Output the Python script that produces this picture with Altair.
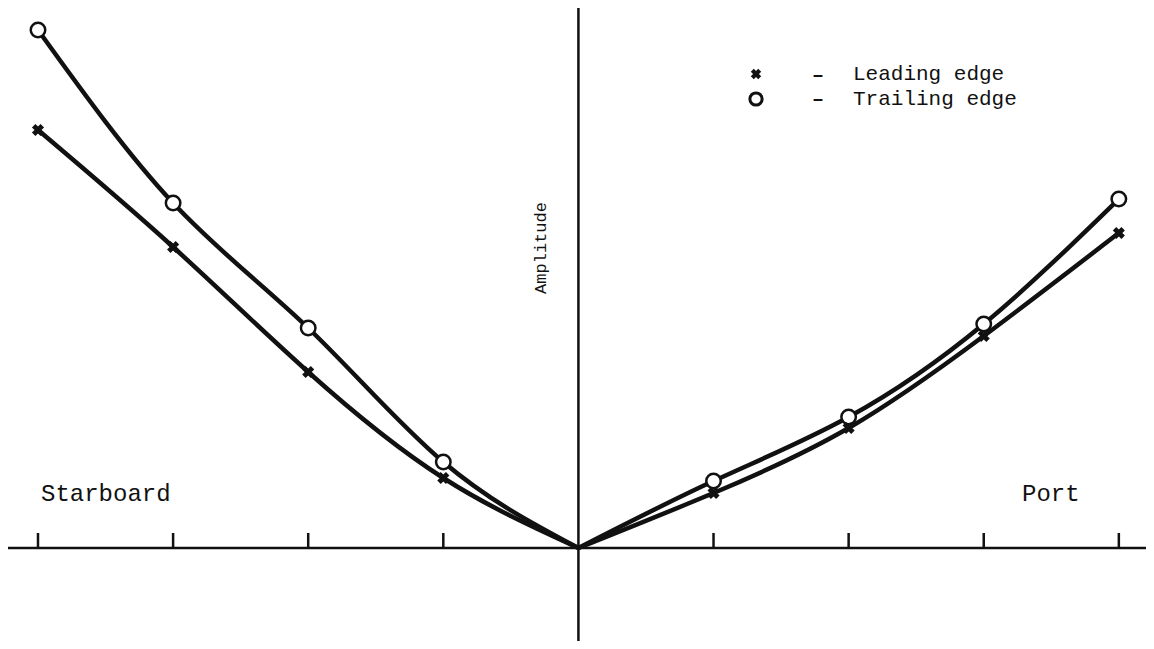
import altair as alt
import pandas as pd

# Data
positions = [-4, -3, -2, -1, 0, 1, 2, 3, 4]
leading_edge = [4.18, 3.01, 1.76, 0.70, 0.0, 0.55, 1.20, 2.12, 3.15]
trailing_edge = [5.18, 3.45, 2.20, 0.86, 0.0, 0.67, 1.31, 2.24, 3.49]
tick_positions = [-4, -3, -2, -1, 1, 2, 3, 4]

rows = []
for name, vals in [("Leading edge", leading_edge), ("Trailing edge", trailing_edge)]:
    for x, v in zip(positions, vals):
        if x <= 0:
            rows.append({"pos": x, "amp": v, "series": name, "side": "Starboard"})
        if x >= 0:
            rows.append({"pos": x, "amp": v, "series": name, "side": "Port"})
df = pd.DataFrame(rows)
pts = df[(df["pos"] != 0)].drop_duplicates(subset=["pos", "series"])
ticks_df = pd.DataFrame({"pos": tick_positions, "y0": 0.0, "y1": 0.15})
origin_df = pd.DataFrame({"pos": [0.0], "amp": [0.0]})

W, H = 1138, 633
FONT = "Liberation Mono"
INK = "#111111"

xs = alt.Scale(domain=[-4.222, 4.201], nice=False, zero=False)
ys = alt.Scale(domain=[-0.93, 5.40], nice=False, zero=False)
X = alt.X("pos:Q", scale=xs, axis=None)
Y = alt.Y("amp:Q", scale=ys, axis=None)

lines = alt.Chart(df).mark_line(interpolate="natural", strokeWidth=4.5, color=INK).encode(
    x=X, y=Y, detail=["series:N", "side:N"], order="pos:Q"
)

circles = alt.Chart(pts[pts["series"] == "Trailing edge"]).mark_point(
    shape="circle", filled=True, fill="white", stroke=INK, strokeWidth=2.5, size=210, opacity=1
).encode(x=X, y=Y)

crosses = alt.Chart(pts[pts["series"] == "Leading edge"]).mark_point(
    shape="cross", angle=45, filled=True, color=INK, size=150, opacity=1
).encode(x=X, y=Y)

# axes drawn as rules
hline = alt.Chart(origin_df).mark_rule(color=INK, strokeWidth=2.5).encode(y=Y)
vline = alt.Chart(origin_df).mark_rule(color=INK, strokeWidth=2.5).encode(x=X)
tick_marks = alt.Chart(ticks_df).mark_rule(color=INK, strokeWidth=2.5).encode(
    x=X, y=alt.Y("y0:Q", scale=ys, axis=None), y2="y1:Q"
)

def label(text, x, y, size=21, angle=0, align="left", weight="normal"):
    return alt.Chart(pd.DataFrame({"t": [text]})).mark_text(
        font=FONT, fontSize=size, color=INK, align=align, baseline="middle",
        angle=angle, fontWeight=weight
    ).encode(text="t:N", x=alt.value(x), y=alt.value(y))

amp_label = label("Amplitude", 533, 240, size=17, angle=270, align="center")
starboard = label("Starboard", 33, 486, size=24)
port = label("Port", 1014, 486, size=24)

def legend_marker(shape, filled, y):
    props = dict(shape=shape, filled=filled, opacity=1)
    if shape == "cross":
        props.update(angle=45, color=INK, size=110)
    else:
        props.update(stroke=INK, strokeWidth=3, size=150)
    return alt.Chart(pd.DataFrame({"t": [shape]})).mark_point(**props).encode(
        x=alt.value(748), y=alt.value(y)
    )

leg_cross = legend_marker("cross", True, 66)
leg_circle = legend_marker("circle", False, 91)
leg1_dash = label("–", 804, 67, size=20, weight="bold")
leg2_dash = label("–", 804, 91, size=20, weight="bold")
leg1 = label("Leading edge", 845, 66)
leg2 = label("Trailing edge", 845, 91)

chart = alt.layer(
    hline, vline, tick_marks, lines, circles, crosses,
    amp_label, starboard, port,
    leg_cross, leg_circle, leg1_dash, leg2_dash, leg1, leg2,
).properties(
    width=W, height=H, padding=0, autosize=alt.AutoSizeParams(type="none"), background="white"
).configure_view(stroke=None)

chart.save("out.html", embed_options={"renderer": "svg", "actions": False})
